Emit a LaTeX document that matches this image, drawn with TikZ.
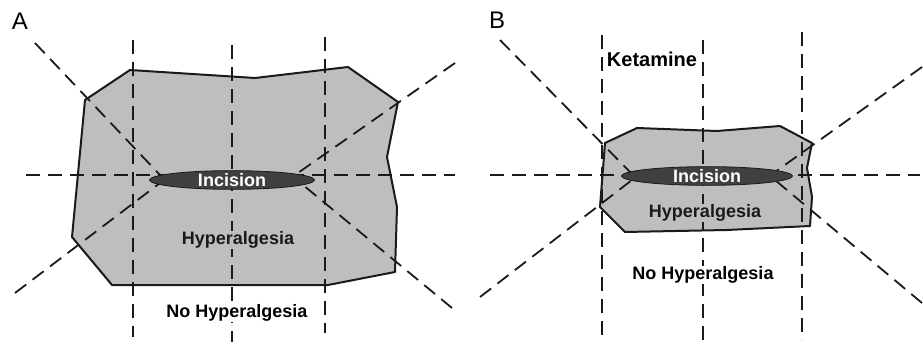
\documentclass[tikz,border=0pt]{standalone}
\usepackage{fontspec}
\setmainfont{Liberation Sans}
\usetikzlibrary{shapes.geometric}
\definecolor{zoneFill}{HTML}{BEBEBE}
\definecolor{cutFill}{HTML}{404040}
\definecolor{lineDark}{HTML}{1A1A1A}
\tikzset{
  guide/.style={lineDark, line width=1.8pt, dash pattern=on 14pt off 8pt},
  zone/.style={fill=zoneFill, draw=lineDark, line width=2pt, line join=round},
  cut/.style={ellipse, fill=cutFill, draw=lineDark, line width=0.8pt, inner sep=0pt, text=white, font=\bfseries\fontsize{18}{20}\selectfont},
  tag/.style={font=\bfseries\fontsize{18}{20}\selectfont, inner sep=1pt},
  panel/.style={font=\fontsize{24}{26}\selectfont, inner sep=0pt}
}
\begin{document}
\begin{tikzpicture}[x=1pt, y=-1pt]
  \useasboundingbox (0,0) rectangle (923,347);

  % ===== Panel A =====
  \node[panel] (labA) at (20,21) {A};
  \fill[zoneFill] (130,70) -- (255,78) -- (348,67) -- (398,102) -- (387,157) -- (397,207)
    -- (395,272) -- (328,285) -- (112,285) -- (72,237) -- (85,100) -- cycle;

  % guide lines
  \draw[guide] (133,40) -- (133,337);
  \draw[guide] (232,45) -- (232,342);
  \draw[guide] (325,37) -- (325,333);
  \draw[guide] (26,175) -- (455,175);
  \coordinate (aUL) at (35,43);
  \coordinate (aUR) at (455,63);
  \coordinate (aLL) at (15,293);
  \coordinate (aLR) at (452,308);
  \draw[guide] (aUL) -- (160,175);
  \draw[guide] (aUR) -- (295,175);
  \draw[guide] (aLL) -- (160,183);
  \draw[guide] (aLR) -- (303,185);

  \draw[zone, fill=none] (130,70) -- (255,78) -- (348,67) -- (398,102) -- (387,157) -- (397,207)
    -- (395,272) -- (328,285) -- (112,285) -- (72,237) -- (85,100) -- cycle;

  \node[cut, minimum width=165pt, minimum height=16pt] (cutA) at (232,180) {Incision};
  \node[tag, text=lineDark, fill=zoneFill] (hypA) at (238,240) {Hyperalgesia};
  \node[tag, text=black, fill=white] (noA) at (237,313) {No Hyperalgesia};

  % ===== Panel B =====
  \node[panel] (labB) at (497,20) {B};
  \fill[zoneFill] (605,143) -- (637,128) -- (717,131) -- (780,126) -- (812,143) -- (807,168)
    -- (812,197) -- (810,226) -- (727,230) -- (625,232) -- (600,207) -- cycle;

  % guide lines
  \draw[guide] (602,35) -- (602,342);
  \draw[guide] (703,40) -- (703,347);
  \draw[guide] (802,32) -- (802,340);
  \draw[guide] (490,175) -- (920,175);
  \coordinate (bUL) at (500,40);
  \coordinate (bUR) at (922,67);
  \coordinate (bLL) at (480,297);
  \coordinate (bLR) at (922,303);
  \draw[guide] (bUL) -- (633,175);
  \draw[guide] (bUR) -- (775,172);
  \draw[guide] (bLL) -- (632,180);
  \draw[guide] (bLR) -- (775,180);

  \draw[zone, fill=none] (605,143) -- (637,128) -- (717,131) -- (780,126) -- (812,143) -- (807,168)
    -- (812,197) -- (810,226) -- (727,230) -- (625,232) -- (600,207) -- cycle;

  \node[cut, minimum width=171pt, minimum height=13pt] (cutB) at (707,176) {Incision};
  \node[tag, text=lineDark, fill=zoneFill] (hypB) at (705,213) {Hyperalgesia};
  \node[tag, text=black, fill=white] (noB) at (703,275) {No Hyperalgesia};
  \node[tag, text=black, inner sep=0pt, font=\bfseries\fontsize{20}{22}\selectfont] (ketB) at (652,59) {Ketamine};
\end{tikzpicture}
\end{document}
